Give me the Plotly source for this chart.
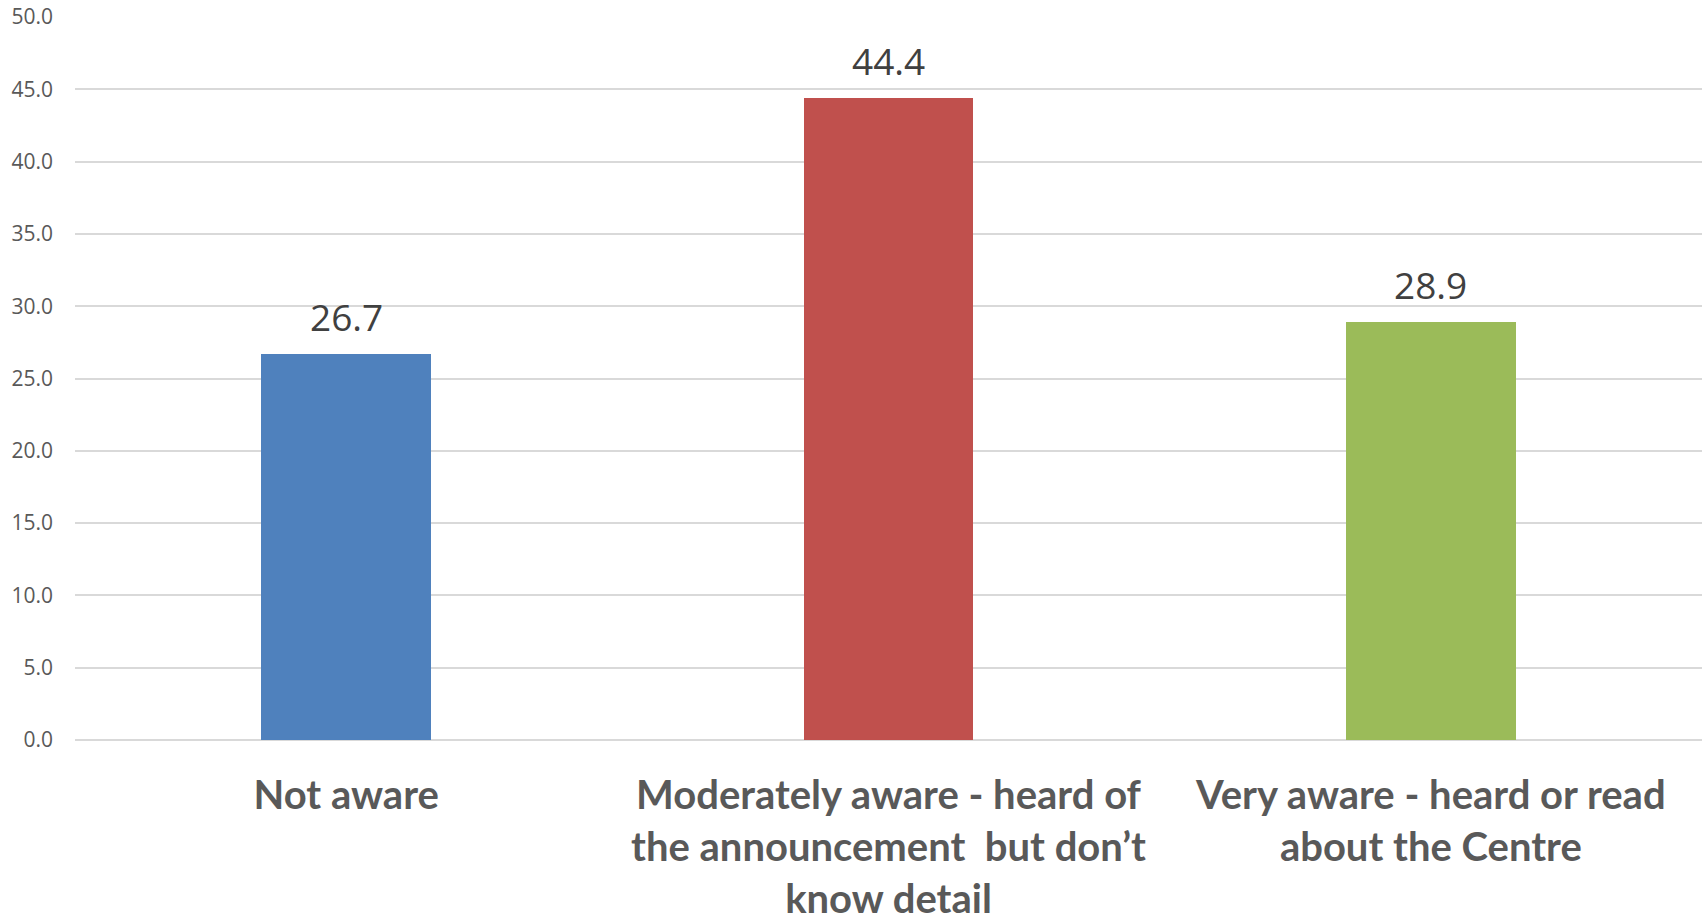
import plotly.graph_objects as go

# Awareness levels and share of respondents (%)
categories = [
    "Not aware",
    "Moderately aware - heard of<br>the announcement  but don’t<br>know detail",
    "Very aware - heard or read<br>about the Centre",
]
values = [26.7, 44.4, 28.9]
bar_colors = ["#4F81BD", "#C0504D", "#9BBB59"]
y_ticks = [0, 5, 10, 15, 20, 25, 30, 35, 40, 45, 50]

fig = go.Figure(
    go.Bar(
        x=categories,
        y=values,
        marker=dict(color=bar_colors, line=dict(width=0)),
        width=0.313,
        showlegend=False,
        hoverinfo="x+y",
    )
)

# Value labels sitting above each bar
for cat, val in zip(categories, values):
    fig.add_annotation(
        x=cat, y=val, xref="x", yref="y",
        text=f"{val:.1f}", showarrow=False,
        yanchor="bottom", yshift=10,
        font=dict(family="Open Sans", size=37, color="#404040"),
    )

fig.update_layout(
    width=1704, height=916,
    margin=dict(l=75, r=2, t=17, b=176),
    paper_bgcolor="white", plot_bgcolor="white",
    bargap=0,
)
fig.update_xaxes(
    showgrid=False, showline=False, zeroline=False, ticks="",
    tickfont=dict(family="Lato", size=40, color="#595959", weight="bold"),
    ticklabelstandoff=28, automargin=False,
)
fig.update_yaxes(
    range=[0, 50], tickvals=y_ticks, ticktext=[f"{t:.1f}" for t in y_ticks],
    showgrid=True, gridcolor="#D9D9D9", gridwidth=2,
    zeroline=True, zerolinecolor="#D9D9D9", zerolinewidth=2,
    showline=False, ticks="",
    tickfont=dict(family="Open Sans", size=21, color="#595959"),
    ticklabelstandoff=21, automargin=False,
)

fig.write_html("out.html")
